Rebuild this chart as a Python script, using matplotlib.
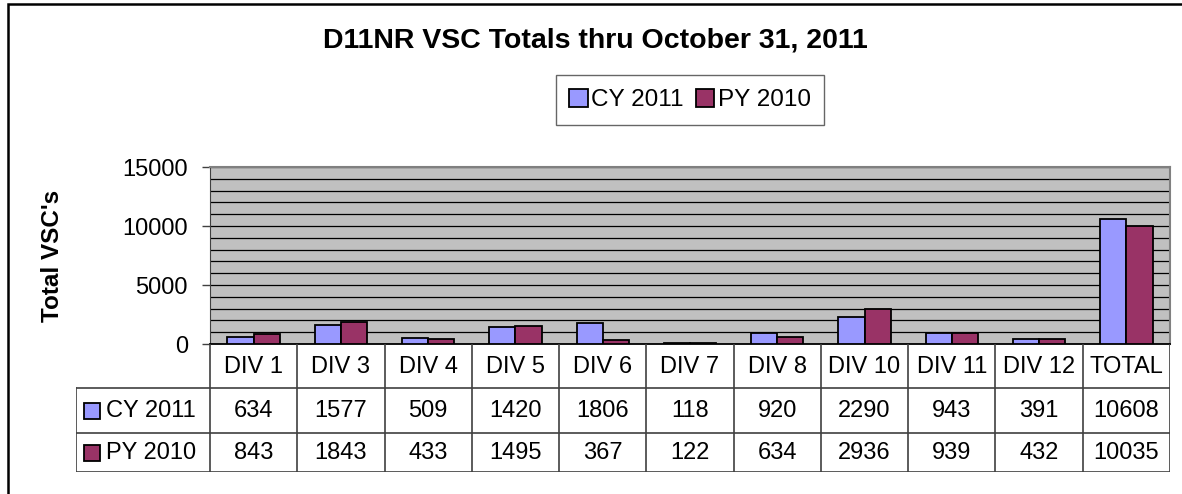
import matplotlib.pyplot as plt
import numpy as np
from matplotlib.patches import Rectangle, Patch

plt.rcParams["font.family"] = ["Liberation Sans", "DejaVu Sans"]

categories = ["DIV 1", "DIV 3", "DIV 4", "DIV 5", "DIV 6", "DIV 7",
              "DIV 8", "DIV 10", "DIV 11", "DIV 12", "TOTAL"]
cy_2011 = [634, 1577, 509, 1420, 1806, 118, 920, 2290, 943, 391, 10608]
py_2010 = [843, 1843, 433, 1495, 367, 122, 634, 2936, 939, 432, 10035]
series_names = ["CY 2011", "PY 2010"]
colors = ["#9999FF", "#993366"]

W, H = 1182, 494
fig = plt.figure(figsize=(W / 100, H / 100), dpi=100)

# plot area in pixel terms
left, right, top, bottom = 210, 1170, 167, 344
ax = fig.add_axes([left / W, 1 - bottom / H, (right - left) / W, (bottom - top) / H])
ax.set_facecolor("#C0C0C0")

x = np.arange(len(categories))
bw = 0.3
ax.bar(x - bw / 2, cy_2011, bw, color=colors[0], edgecolor="black", linewidth=1.3, zorder=3)
ax.bar(x + bw / 2, py_2010, bw, color=colors[1], edgecolor="black", linewidth=1.3, zorder=3)

ax.set_xlim(-0.5, len(categories) - 0.5)
ax.set_ylim(0, 15000)
ax.set_yticks([0, 5000, 10000, 15000])
ax.set_yticks(np.arange(0, 15001, 1000), minor=True)
ax.yaxis.grid(True, which="both", color="black", linewidth=0.9, zorder=1)
ax.set_axisbelow(True)
ax.set_xticks([])
ax.tick_params(axis="y", which="major", labelsize=17, length=6, width=1, color="#404040", pad=10)
ax.tick_params(axis="y", which="minor", length=0)
for s in ["top", "right"]:
    ax.spines[s].set_color("#808080")
    ax.spines[s].set_linewidth(1.5)
ax.spines["left"].set_color("#404040")
ax.spines["bottom"].set_color("black")
ax.spines["bottom"].set_linewidth(1.3)
ax.set_ylabel("Total VSC's", fontsize=17.5, fontweight="bold", labelpad=42)

# data table below the plot
tleft, tbot = 76, 472
tax = fig.add_axes([tleft / W, 1 - tbot / H, (right - tleft) / W, (tbot - bottom) / H])
col_w = (right - left) / len(categories)
lab_w = (left - tleft) / col_w
tax.set_xlim(-0.5 - lab_w, len(categories) - 0.5)
rows = [0, 44, 89, 128]
tax.set_ylim(rows[-1], 0)
tax.axis("off")

lc = "#404040"
for k in range(len(categories) + 1):
    tax.plot([k - 0.5, k - 0.5], [0, rows[-1]], color=lc, lw=1.2)
for r in rows[1:]:
    tax.plot([-0.5 - lab_w, len(categories) - 0.5], [r, r], color=lc, lw=1.2)
tax.plot([-0.5 - lab_w] * 2, [rows[1], rows[-1]], color=lc, lw=1.2)

fs = 17
for i, c in enumerate(categories):
    tax.text(i, (rows[0] + rows[1]) / 2 + 1, c, ha="center", va="center", fontsize=fs)
for j, vals in enumerate([cy_2011, py_2010]):
    yc = (rows[j + 1] + rows[j + 2]) / 2
    for i, v in enumerate(vals):
        tax.text(i, yc, str(v), ha="center", va="center", fontsize=fs)
    tax.add_patch(Rectangle((-0.5 - lab_w + 0.09, yc - 8), 0.19, 16,
                            facecolor=colors[j], edgecolor="black", lw=1.3))
    tax.text(-0.5 - lab_w + 0.34, yc, series_names[j], ha="left", va="center", fontsize=fs)

# title and legend
fig.text(595 / W, 1 - 40 / H, "D11NR VSC Totals thru October 31, 2011",
         ha="center", va="center", fontsize=20.5, fontweight="bold")
handles = [Patch(facecolor=colors[i], edgecolor="black", lw=1.3) for i in range(2)]
leg = fig.legend(handles, series_names, loc="center", bbox_to_anchor=(690 / W, 1 - 100 / H),
                 ncol=2, fontsize=17.5, frameon=True, fancybox=False, edgecolor="#404040",
                 handlelength=0.75, handleheight=0.75, handletextpad=0.15, columnspacing=0.5,
                 borderpad=0.55)
leg.get_frame().set_linewidth(1.0)

# outer chart border
fig.patches.append(Rectangle((8 / W, -0.1), 1.2, 1 - 4 / H + 0.1, transform=fig.transFigure,
                             fill=False, edgecolor="black", lw=1.8))

fig.savefig("out.png", dpi=100)
